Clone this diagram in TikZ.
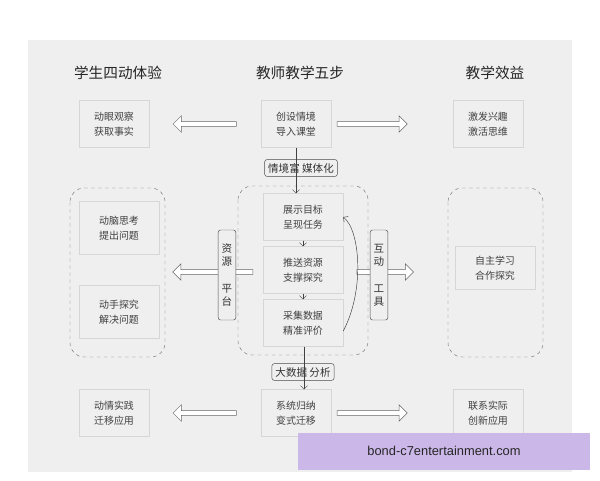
\documentclass[tikz,border=0pt]{standalone}
\usepackage{fontspec}
\newfontfamily\cjk{Noto Sans CJK SC}
\usetikzlibrary{shapes.arrows,arrows.meta}
\definecolor{panel}{HTML}{EFEFEF}
\definecolor{bord}{HTML}{D6D6D6}
\definecolor{wm}{HTML}{CBB8E8}
\begin{document}
\begin{tikzpicture}[x=0.03cm,y=-0.03cm,
 box/.style={draw=bord,fill=panel,minimum width=2.1cm,minimum height=1.4cm,font=\cjk\fontsize{8.5}{13}\selectfont,align=center,text=black!75},
 cbox/.style={box,minimum width=2.4cm},
 lab/.style={draw=black!70,rounded corners=2pt,fill=panel,font=\cjk\fontsize{9}{11}\selectfont,text=black!80,inner sep=3pt},
 vlab/.style={lab,minimum height=2.7cm,text width=9pt,align=center},
 dbox/.style={draw=black!55,dashed,rounded corners=12pt},
 harrow/.style={single arrow,draw=black!60,fill=white,minimum height=#1,minimum width=14pt,single arrow head extend=4pt,inner sep=1.5pt},
 head/.style={font=\cjk\fontsize{12.5}{14}\selectfont,text=black!85}]
\useasboundingbox (0,0) rectangle (600,480);
\fill[white] (0,0) rectangle (600,480);
\fill[panel] (28,40) rectangle (572,472);
\node[head] (h1) at (118,73) {学生四动体验};
\node[head] (h2) at (300,73) {教师教学五步};
\node[head] (h3) at (495,73) {教学效益};
% dashed groups
\draw[dbox] (70,188) rectangle (165,357);
\draw[dbox] (238,186) rectangle (368,355);
\draw[dbox] (448,188) rectangle (543,357);
% top row
\node[box] (a1) at (114,124) {动眼观察\\获取事实};
\node[box] (c1) at (296,124) {创设情境\\导入课堂};
\node[box] (b1) at (488,124) {激发兴趣\\激活思维};
\node[harrow=1.9cm,shape border rotate=180] (ar1) at (206,124) {};
\node[harrow=2.1cm] (ar2) at (371,124) {};
% middle
\node[cbox] (c2) at (303,217) {展示目标\\呈现任务};
\node[cbox] (c3) at (303,270) {推送资源\\支撑探究};
\node[cbox] (c4) at (303,323) {采集数据\\精准评价};
\node[box,minimum width=2.4cm,minimum height=1.6cm] (a2) at (119,228) {动脑思考\\提出问题};
\node[box,minimum width=2.4cm,minimum height=1.6cm] (a3) at (119,312) {动手探究\\解决问题};
\node[box,minimum width=2.4cm,minimum height=1.3cm] (b2) at (495,268) {自主学习\\合作探究};
\node[harrow=2.4cm,shape border rotate=180] (ar3) at (214,272) {};
\node[harrow=1.7cm] (ar4) at (384,272) {};
\node[vlab] (v1) at (227,275) {资\\源\\[12pt]平\\台};
\node[vlab] (v2) at (379,275) {互\\动\\[12pt]工\\具};
\node[lab] (l1) at (301,168) {情境富 媒体化};
\node[lab] (l2) at (303,372) {大数据 分析};
% bottom
\node[box] (a4) at (114,413) {动情实践\\迁移应用};
\node[box] (c5) at (296,413) {系统归纳\\变式迁移};
\node[box] (b3) at (488,413) {联系实际\\创新应用};
\node[harrow=1.9cm,shape border rotate=180] (ar5) at (206,413) {};
\node[harrow=2.1cm] (ar6) at (371,413) {};
% connectors
\draw[black!75,-{Straight Barb[length=3pt]}] (c1.south) -- (c2.north -| c1.south);
\draw[black!75,-{Straight Barb[length=3pt]}] (c2.south) -- (c3.north);
\draw[black!75,-{Straight Barb[length=3pt]}] (c3.south) -- (c4.north);
\draw[black!75,-{Straight Barb[length=3pt]}] (c4.south -| 304,0) -- (c5.north -| 304,0);
\draw[black!75,-{Straight Barb[length=3pt]}] (c4.east) ++(0,8) .. controls (365,290) and (360,230) .. (c2.east);
% watermark
\node[fill=wm,minimum width=8.76cm,minimum height=1.11cm,font=\fontspec{Liberation Sans}\fontsize{11}{13}\selectfont,text=black!85] (w) at (444,451) {bond-c7entertainment.com};
\end{tikzpicture}
\end{document}
